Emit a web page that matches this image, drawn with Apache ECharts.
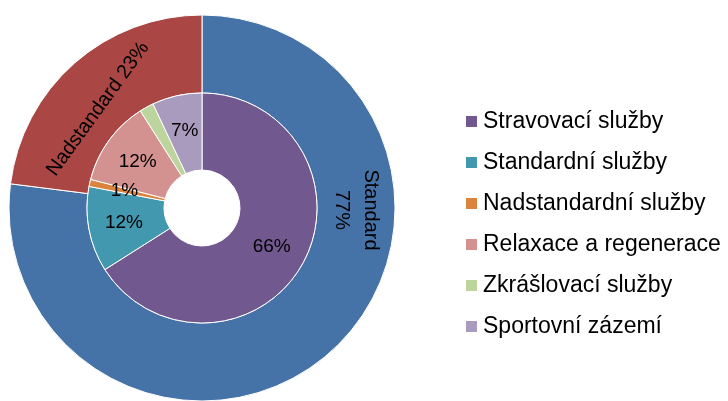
<!DOCTYPE html>
<html>
<head>
<meta charset="utf-8">
<script src="https://cdn.jsdelivr.net/npm/echarts@6/dist/echarts.min.js"></script>
<style>
  html, body { margin: 0; padding: 0; background: #fff; }
  #chart { width: 728px; height: 401px; }
</style>
</head>
<body>
<div id="chart"></div>
<script>
// vnitřní kruh - služby
var sluzby_names = ['Stravovací služby', 'Standardní služby', 'Nadstandardní služby',
                    'Relaxace a regenerace', 'Zkrášlovací služby', 'Sportovní zázemí'];
var sluzby_values = [66, 12, 1, 12, 2, 7];
var sluzby_colors = ['#71588F', '#4198AF', '#DB843D', '#D3928F', '#BDD59C', '#A99BBE'];

// vnější kruh
var typ_names = ['Standard', 'Nadstandard'];
var typ_values = [77, 23];
var typ_colors = ['#4673A7', '#AA4643'];

var center = [202, 208];
var r_hole = 38, r_mid = 115, r_out = 193;
var font = 'Liberation Sans';

var inner_data = sluzby_names.map(function (n, i) {
    return { name: n, value: sluzby_values[i], itemStyle: { color: sluzby_colors[i] } };
});
var outer_data = typ_names.map(function (n, i) {
    return { name: n, value: typ_values[i], itemStyle: { color: typ_colors[i] } };
});
outer_data[0].label = { rotate: -90, formatter: '{b}\n{c}%' };
outer_data[1].label = { rotate: 54, formatter: '{b} {c}%' };

var option = {
    backgroundColor: '#fff',
    animation: false,
    legend: {
        orient: 'vertical',
        left: 459,
        top: 105,
        itemWidth: 13,
        itemHeight: 13,
        itemGap: 18,
        icon: 'rect',
        data: sluzby_names,
        textStyle: { fontFamily: font, fontSize: 23, color: '#000' }
    },
    series: [
        {
            name: 'typ',
            type: 'pie',
            center: center,
            radius: [r_mid, r_out],
            startAngle: 90,
            clockwise: true,
            itemStyle: { borderColor: '#fff', borderWidth: 1 },
            label: {
                show: true,
                position: 'inside',
                fontFamily: font,
                fontSize: 20,
                lineHeight: 29,
                color: '#000'
            },
            labelLayout: function (p) {
                if (p.dataIndex === 0) {
                    return { x: center[0] + 154, y: center[1] + 2 };
                }
                return { x: center[0] - 104, y: center[1] - 99 };
            },
            emphasis: { disabled: true },
            data: outer_data
        },
        {
            name: 'sluzby',
            type: 'pie',
            center: center,
            radius: [r_hole, r_mid],
            startAngle: 90,
            clockwise: true,
            itemStyle: { borderColor: '#fff', borderWidth: 1 },
            label: {
                show: true,
                position: 'inside',
                formatter: '{c}%',
                fontFamily: font,
                fontSize: 19,
                color: '#000'
            },
            emphasis: { disabled: true },
            data: inner_data
        }
    ]
};

var chart = echarts.init(document.getElementById('chart'));
chart.setOption(option);
</script>
</body>
</html>
